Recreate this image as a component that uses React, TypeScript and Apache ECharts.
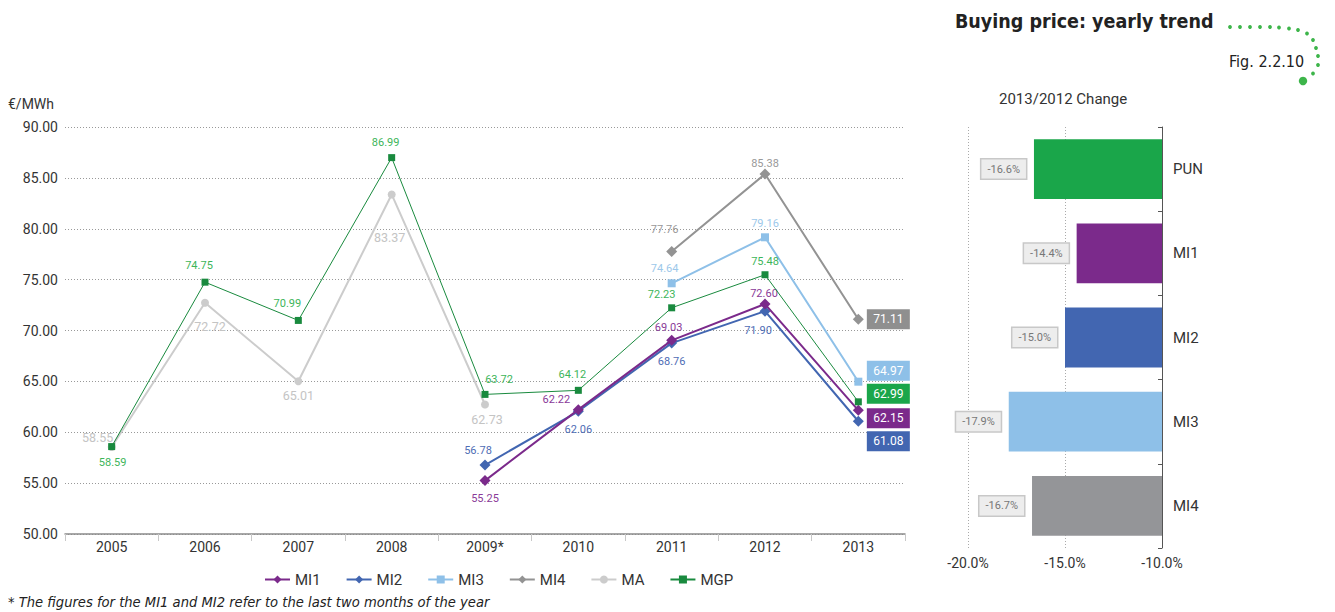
import React, { useEffect, useRef } from "react";
import * as echarts from "echarts";

const years = ["2005", "2006", "2007", "2008", "2009*", "2010", "2011", "2012", "2013"];
const mi1 = [null, null, null, null, 55.25, 62.22, 69.03, 72.6, 62.15];
const mi2 = [null, null, null, null, 56.78, 62.06, 68.76, 71.9, 61.08];
const mi3 = [null, null, null, null, null, null, 74.64, 79.16, 64.97];
const mi4 = [null, null, null, null, null, null, 77.76, 85.38, 71.11];
const ma = [58.55, 72.72, 65.01, 83.37, 62.73, null, null, null, null];
const mgp = [58.59, 74.75, 70.99, 86.99, 63.72, 64.12, 72.23, 75.48, 62.99];

const yTicks = { min: 50, max: 90, interval: 5 };

const changeCats = ["PUN", "MI1", "MI2", "MI3", "MI4"];
const changeValues = [-16.6, -14.4, -15.0, -17.9, -16.7];

// label offsets (styling, relative to each point centre)
const offMi1 = [null, null, null, null, [0, 18], [-22, -10], [-3, -13], [-1, -11], [30, 8]];
const offMi2 = [null, null, null, null, [-7, -15], [0, 18], [0, 18], [-7, 19], [30, 20]];
const offMi3 = [null, null, null, null, null, null, [-7, -15], [0, -14], [30, -11]];
const offMi4 = [null, null, null, null, null, null, [-7, -22], [0, -11], [30, 0]];
const offMa = [[-14, -10], [5, 24], [0, 14], [-2, 43], [2, 15], null, null, null, null];
const offMgp = [[1, 16], [-6, -17], [-11, -17], [-6, -15], [14, -15], [-6, -16], [-10, -13], [0, -13], [30, -8]];

const FONT = "Roboto";
const COND = "'DejaVu Sans Condensed', 'Liberation Sans', sans-serif";

function buildData(values: (number | null)[], offs: any[], labelColor: string, boxColor: string, fontSize: number) {
  return values.map((v, i) => {
    if (v === null) return null;
    const last = i === values.length - 1;
    const base: any = {
      show: true,
      position: "inside",
      offset: offs[i] || [0, 0],
      formatter: (p: any) => Number(p.value).toFixed(2),
      fontFamily: FONT,
    };
    if (last) {
      Object.assign(base, {
        color: "#ffffff",
        fontSize: 12,
        backgroundColor: boxColor,
        padding: [4, 5, 4, 5],
        width: 33,
        align: "center",
      });
    } else {
      Object.assign(base, { color: labelColor, fontSize });
    }
    return { value: v, label: base };
  });
}

export default function App() {
  const ref = useRef<HTMLDivElement>(null);
  useEffect(() => {
    if (!ref.current) return;
    const chart = echarts.init(ref.current, undefined, { renderer: "svg" });

    const dots: any[] = [
      [1230, 27], [1240, 27], [1250, 27], [1260, 27], [1270, 27], [1279, 27.5], [1289, 28.5], [1298, 30],
      [1307, 33.5], [1313, 40], [1316, 48], [1318, 56], [1318, 65], [1313, 73.5],
    ].map(([x, y]) => ({
      type: "circle",
      shape: { cx: x, cy: y, r: 1.9 },
      style: { fill: "#3DB54A" },
      silent: true,
    }));
    dots.push({ type: "circle", shape: { cx: 1303, cy: 81, r: 4.2 }, style: { fill: "#3DB54A" }, silent: true });

    const lineSeries = (name: string, values: any[], offs: any[], color: string, labelColor: string, boxColor: string, symbol: string, size: number, width: number, fs: number, z: number) => ({
      name,
      type: "line",
      data: buildData(values, offs, labelColor, boxColor, fs),
      symbol,
      symbolSize: size,
      lineStyle: { color, width },
      itemStyle: { color },
      connectNulls: false,
      z,
      xAxisIndex: 0,
      yAxisIndex: 0,
    });

    chart.setOption({
      animation: false,
      textStyle: { fontFamily: FONT },
      graphic: [
        {
          type: "text",
          left: 955,
          top: 11,
          style: { text: "Buying price: yearly trend", fontFamily: COND, fontWeight: "bold", fontSize: 19.5, fill: "#222" },
        },
        {
          type: "text",
          left: 1229,
          top: 53,
          style: { text: "Fig. 2.2.10", fontFamily: COND, fontSize: 16, fill: "#222" },
        },
        {
          type: "text",
          left: 999,
          top: 91,
          style: { text: "2013/2012 Change", fontFamily: FONT, fontSize: 15, fill: "#333" },
        },
        {
          type: "text",
          left: 8,
          top: 97,
          style: { text: "€/MWh", fontFamily: FONT, fontSize: 14, fill: "#333" },
        },
        {
          type: "text",
          left: 8,
          top: 594,
          style: { text: "* The figures for the MI1 and MI2 refer to the last two months of the year", fontFamily: COND, fontStyle: "italic", fontSize: 14.6, fill: "#222" },
        },
        ...dots,
      ],
      legend: {
        left: 259,
        top: 567,
        itemWidth: 25,
        itemHeight: 10,
        itemGap: 25,
        textStyle: { fontFamily: FONT, fontSize: 15, color: "#333" },
        data: ["MI1", "MI2", "MI3", "MI4", "MA", "MGP"],
      },
      grid: [
        { left: 65, right: 1335 - 905, top: 127, bottom: 612 - 534 },
        { left: 968, right: 1335 - 1162, top: 127, bottom: 612 - 548 },
      ],
      xAxis: [
        {
          type: "category",
          gridIndex: 0,
          data: years,
          boundaryGap: true,
          axisLine: { lineStyle: { color: "#8a8a8a", width: 1.5 } },
          axisTick: { show: true, interval: 0, length: 7, lineStyle: { color: "#c8c8c8" } },
          axisLabel: { color: "#333", fontSize: 14, margin: 6, fontFamily: FONT },
          splitLine: { show: false },
        },
        {
          type: "value",
          gridIndex: 1,
          min: -20,
          max: -10,
          interval: 5,
          axisLine: { show: false },
          axisTick: { show: false },
          axisLabel: { color: "#333", fontSize: 14, margin: 8, fontFamily: FONT, formatter: (v: number) => v.toFixed(1) + "%" },
          splitLine: { show: true, lineStyle: { color: "#aaa", type: [1, 2], width: 1 } },
        },
      ],
      yAxis: [
        {
          type: "value",
          gridIndex: 0,
          min: yTicks.min,
          max: yTicks.max,
          interval: yTicks.interval,
          axisLine: { show: false },
          axisTick: { show: false },
          axisLabel: { color: "#333", fontSize: 14, margin: 7, fontFamily: FONT, formatter: (v: number) => v.toFixed(2) },
          splitLine: { show: true, lineStyle: { color: "#999", type: [1, 2], width: 1 } },
        },
        {
          type: "category",
          gridIndex: 1,
          data: changeCats,
          inverse: true,
          position: "right",
          axisLine: { show: true, lineStyle: { color: "#555", width: 1 } },
          axisTick: { show: true, inside: true, length: 4, lineStyle: { color: "#555" } },
          axisLabel: { color: "#333", fontSize: 15, margin: 11, fontFamily: FONT },
          splitLine: { show: false },
        },
      ],
      series: [
        lineSeries("MI1", mi1, offMi1, "#7B2A8B", "#8A3A98", "#7B2A8B", "diamond", 11, 2, 11, 6),
        lineSeries("MI2", mi2, offMi2, "#4266B1", "#4F6DB5", "#4266B1", "diamond", 11, 2, 11, 5),
        lineSeries("MI3", mi3, offMi3, "#8EC0E8", "#9CC8EA", "#8EC0E8", "rect", 8, 2, 11, 4),
        lineSeries("MI4", mi4, offMi4, "#939393", "#999999", "#8F8F8F", "diamond", 11, 2, 11, 4),
        lineSeries("MA", ma, offMa, "#CCCCCC", "#C4C4C4", "#CCCCCC", "circle", 8, 2, 12.5, 3),
        lineSeries("MGP", mgp, offMgp, "#198A3E", "#3DB55A", "#1AA64A", "rect", 7, 1, 11, 7),
        {
          name: "change",
          type: "bar",
          xAxisIndex: 1,
          yAxisIndex: 1,
          barCategoryGap: "29%",
          clip: true,
          data: changeValues.map((v, i) => ({
            value: v,
            itemStyle: { color: ["#1AA64A", "#7B2A8B", "#4266B1", "#8EC0E8", "#949598"][i] },
          })),
          label: {
            show: true,
            position: "left",
            distance: 8,
            formatter: (p: any) => Number(p.value).toFixed(1) + "%",
            color: "#777",
            fontSize: 11,
            fontFamily: FONT,
            backgroundColor: "#EDEDED",
            borderColor: "#C8C8C8",
            borderWidth: 1.5,
            padding: [4, 6, 4, 6],
          },
        },
      ],
    });
    return () => chart.dispose();
  }, []);
  return <div ref={ref} style={{ position: "fixed", left: 0, top: 0, width: 1335, height: 612, background: "#fff" }} />;
}
